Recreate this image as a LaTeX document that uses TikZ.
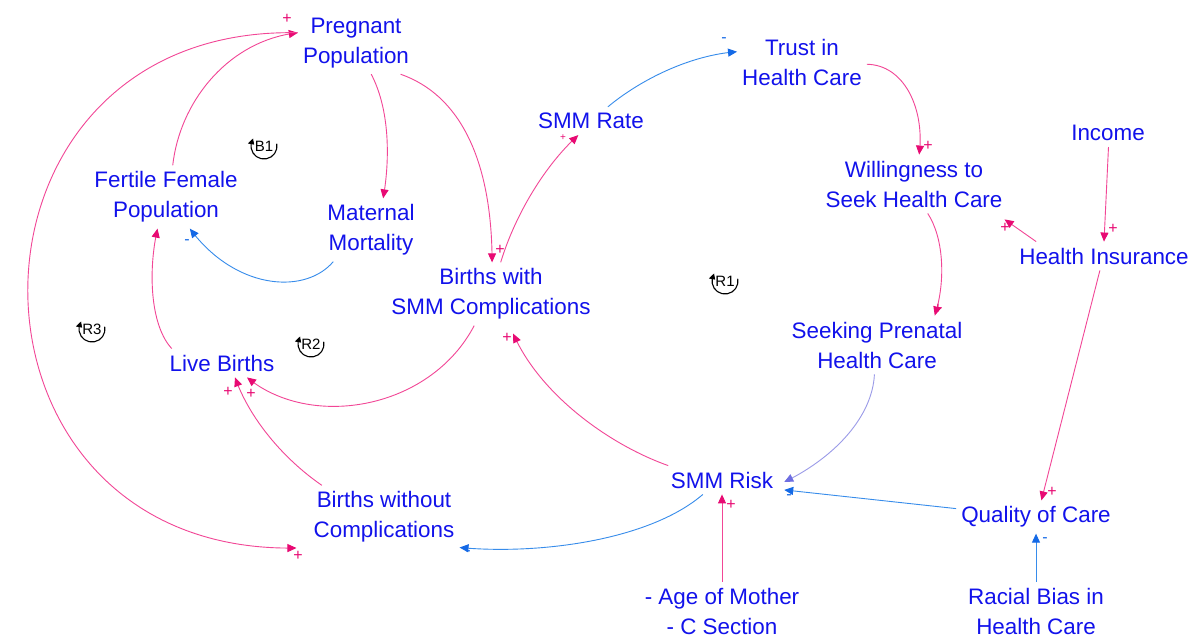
\documentclass[tikz,border=0pt]{standalone}
\usepackage{fontspec}
\setmainfont{Liberation Sans}
\usetikzlibrary{arrows.meta,bending}
\definecolor{vtext}{RGB}{18,18,235}
\definecolor{pk}{RGB}{242,70,150}
\definecolor{pkh}{RGB}{232,10,115}
\definecolor{bl}{RGB}{55,140,235}
\definecolor{blh}{RGB}{20,105,230}
\definecolor{lav}{RGB}{155,155,232}
\definecolor{lavh}{RGB}{110,110,225}

\begin{document}
\begin{tikzpicture}[x=1pt,y=-1pt,
  vnode/.style={text=vtext, align=center, font=\fontsize{22.4}{30}\selectfont,
    inner xsep=5pt, inner ysep=6pt, fill=white},
  plink/.style={draw=pk, line width=0.9pt, -{Triangle[length=9pt,width=8pt,color=pkh]}},
  nlink/.style={draw=bl, line width=0.9pt, -{Triangle[length=9pt,width=8pt,color=blh]}},
  llink/.style={draw=lav, line width=0.9pt, -{Triangle[length=9pt,width=8pt,color=lavh]}},
  psign/.style={text=pkh, font=\fontsize{16}{16}\selectfont, inner sep=0pt},
  nsign/.style={text=blh, font=\fontsize{16}{16}\selectfont, inner sep=0pt},
  loopname/.style={font=\fontsize{15}{15}\selectfont, inner sep=1pt},
  loopmark/.style={draw=black, line width=1.1pt, -{Triangle[bend,length=6pt,width=6pt]}}
]
\useasboundingbox[fill=white] (0,0) rectangle (1198,637);

% variables
\node[vnode] (preg)    at (356,43)   {Pregnant\\Population};
\node[vnode] (trust)   at (802,62)   {Trust in\\Health Care};
\node[vnode] (smmrate) at (591,121)  {SMM Rate};
\node[vnode] (income)  at (1108,133) {Income};
\node[vnode] (will)    at (914,184)  {Willingness to\\Seek Health Care};
\node[vnode] (fert)    at (166,197)  {Fertile Female\\Population};
\node[vnode] (mm)      at (371,230)  {Maternal\\Mortality};
\node[vnode] (hi)      at (1104,256) {Health Insurance};
\node[vnode] (bsmm)    at (491,294)  {Births with\\SMM Complications};
\node[vnode] (seek)    at (877,345)  {Seeking Prenatal\\Health Care};
\node[vnode] (live)    at (222,363)  {Live Births};
\node[vnode] (risk)    at (722,480)  {SMM Risk};
\node[vnode] (bwo)     at (384,517)  {Births without\\Complications};
\node[vnode] (qoc)     at (1036,517) {Quality of Care};
\node[vnode] (age)     at (722,611)  {- Age of Mother\\- C Section};
\node[vnode] (rb)      at (1036,611) {Racial Bias in\\Health Care};

% causal links
\draw[plink] (fert.78) .. controls (180,100) and (230,40) .. (preg.170);
\draw[plink] (preg.170) .. controls (-62,25) and (-62,555) .. ([xshift=-12pt,yshift=-2pt]bwo.201);
\draw[plink] (preg.-64) .. controls (390,110) and (390,160) .. (mm.69);
\draw[plink] (preg.-35) .. controls (460,95) and (492,160) .. (bsmm.88);
\draw[plink] (bsmm.73) .. controls (515,215) and (545,165) .. (smmrate.228);
\draw[nlink] (mm.220) .. controls (305,295) and (235,290) .. (fert.-53);
\draw[plink] (live.164) .. controls (150,325) and (148,270) .. (fert.255);
\draw[plink] (bsmm.242) .. controls (430,410) and (310,430) .. (live.-30);
\draw[plink] (bwo.153) .. controls (285,460) and (250,420) .. (live.-48);
\draw[plink] (risk.165) .. controls (610,445) and (540,395) .. ([yshift=-8pt]bsmm.-55);
\draw[nlink] (risk.217) .. controls (650,540) and (540,555) .. (bwo.-22);
\draw[nlink] (smmrate.40) .. controls (640,80) and (690,55) .. (trust.171);
\draw[plink] (trust.-2) .. controls (905,65) and (925,110) .. (will.80);
\draw[plink] (income.-88) -- (hi.90);
\draw[plink] (hi.168) -- ([yshift=-6pt]will.-18);
\draw[plink] (will.-65) .. controls (945,240) and (945,285) .. (seek.27);
\draw[llink] (seek.-95) .. controls (872,420) and (830,460) .. ([xshift=6pt]risk.-2);
\draw[nlink] (qoc.174) -- ([xshift=6pt]risk.-10);
\draw[plink] (hi.-106) -- (qoc.72);
\draw[nlink] (rb.north) -- (qoc.south);
\draw[plink] (age.north) -- (risk.south);

% link polarities
\node[psign] (s1)  at (287,19)   {+};
\node[psign] (s2)  at (298,556)  {+};
\node[psign] (s4)  at (500,250)  {+};
\node[psign, font=\fontsize{10}{10}\selectfont] (s5) at (563,138) {+};
\node[nsign] (s6)  at (187,242)  {-};
\node[psign] (s8)  at (251,394)  {+};
\node[psign] (s9)  at (228,392)  {+};
\node[psign] (s10) at (507,338)  {+};
\node[nsign] (s11) at (468,553)  {-};
\node[nsign] (s12) at (724,40)   {-};
\node[psign] (s13) at (928,146)  {+};
\node[psign] (s14) at (1113,229) {+};
\node[psign] (s15) at (1005,228) {+};
\node[psign] (s16) at (938,309)  {+};
\node[nsign] (s18) at (789,497)  {-};
\node[psign] (s19) at (1052,492) {+};
\node[nsign] (s20) at (1045,540) {-};
\node[psign] (s21) at (731,505)  {+};

% loop identifiers
\node[loopname] (b1) at (264,146) {B1};
\node[loopname] (r1) at (725,281) {R1};
\node[loopname] (r2) at (311,344) {R2};
\node[loopname] (r3) at (92,329)  {R3};
\foreach \lp in {b1,r1,r2,r3}{
  \begin{scope}[shift={(\lp.center)}, x=1pt, y=1pt]
    \draw[loopmark] (10:13) arc[start angle=10, end angle=-215, radius=13];
  \end{scope}
}
\end{tikzpicture}
\end{document}
